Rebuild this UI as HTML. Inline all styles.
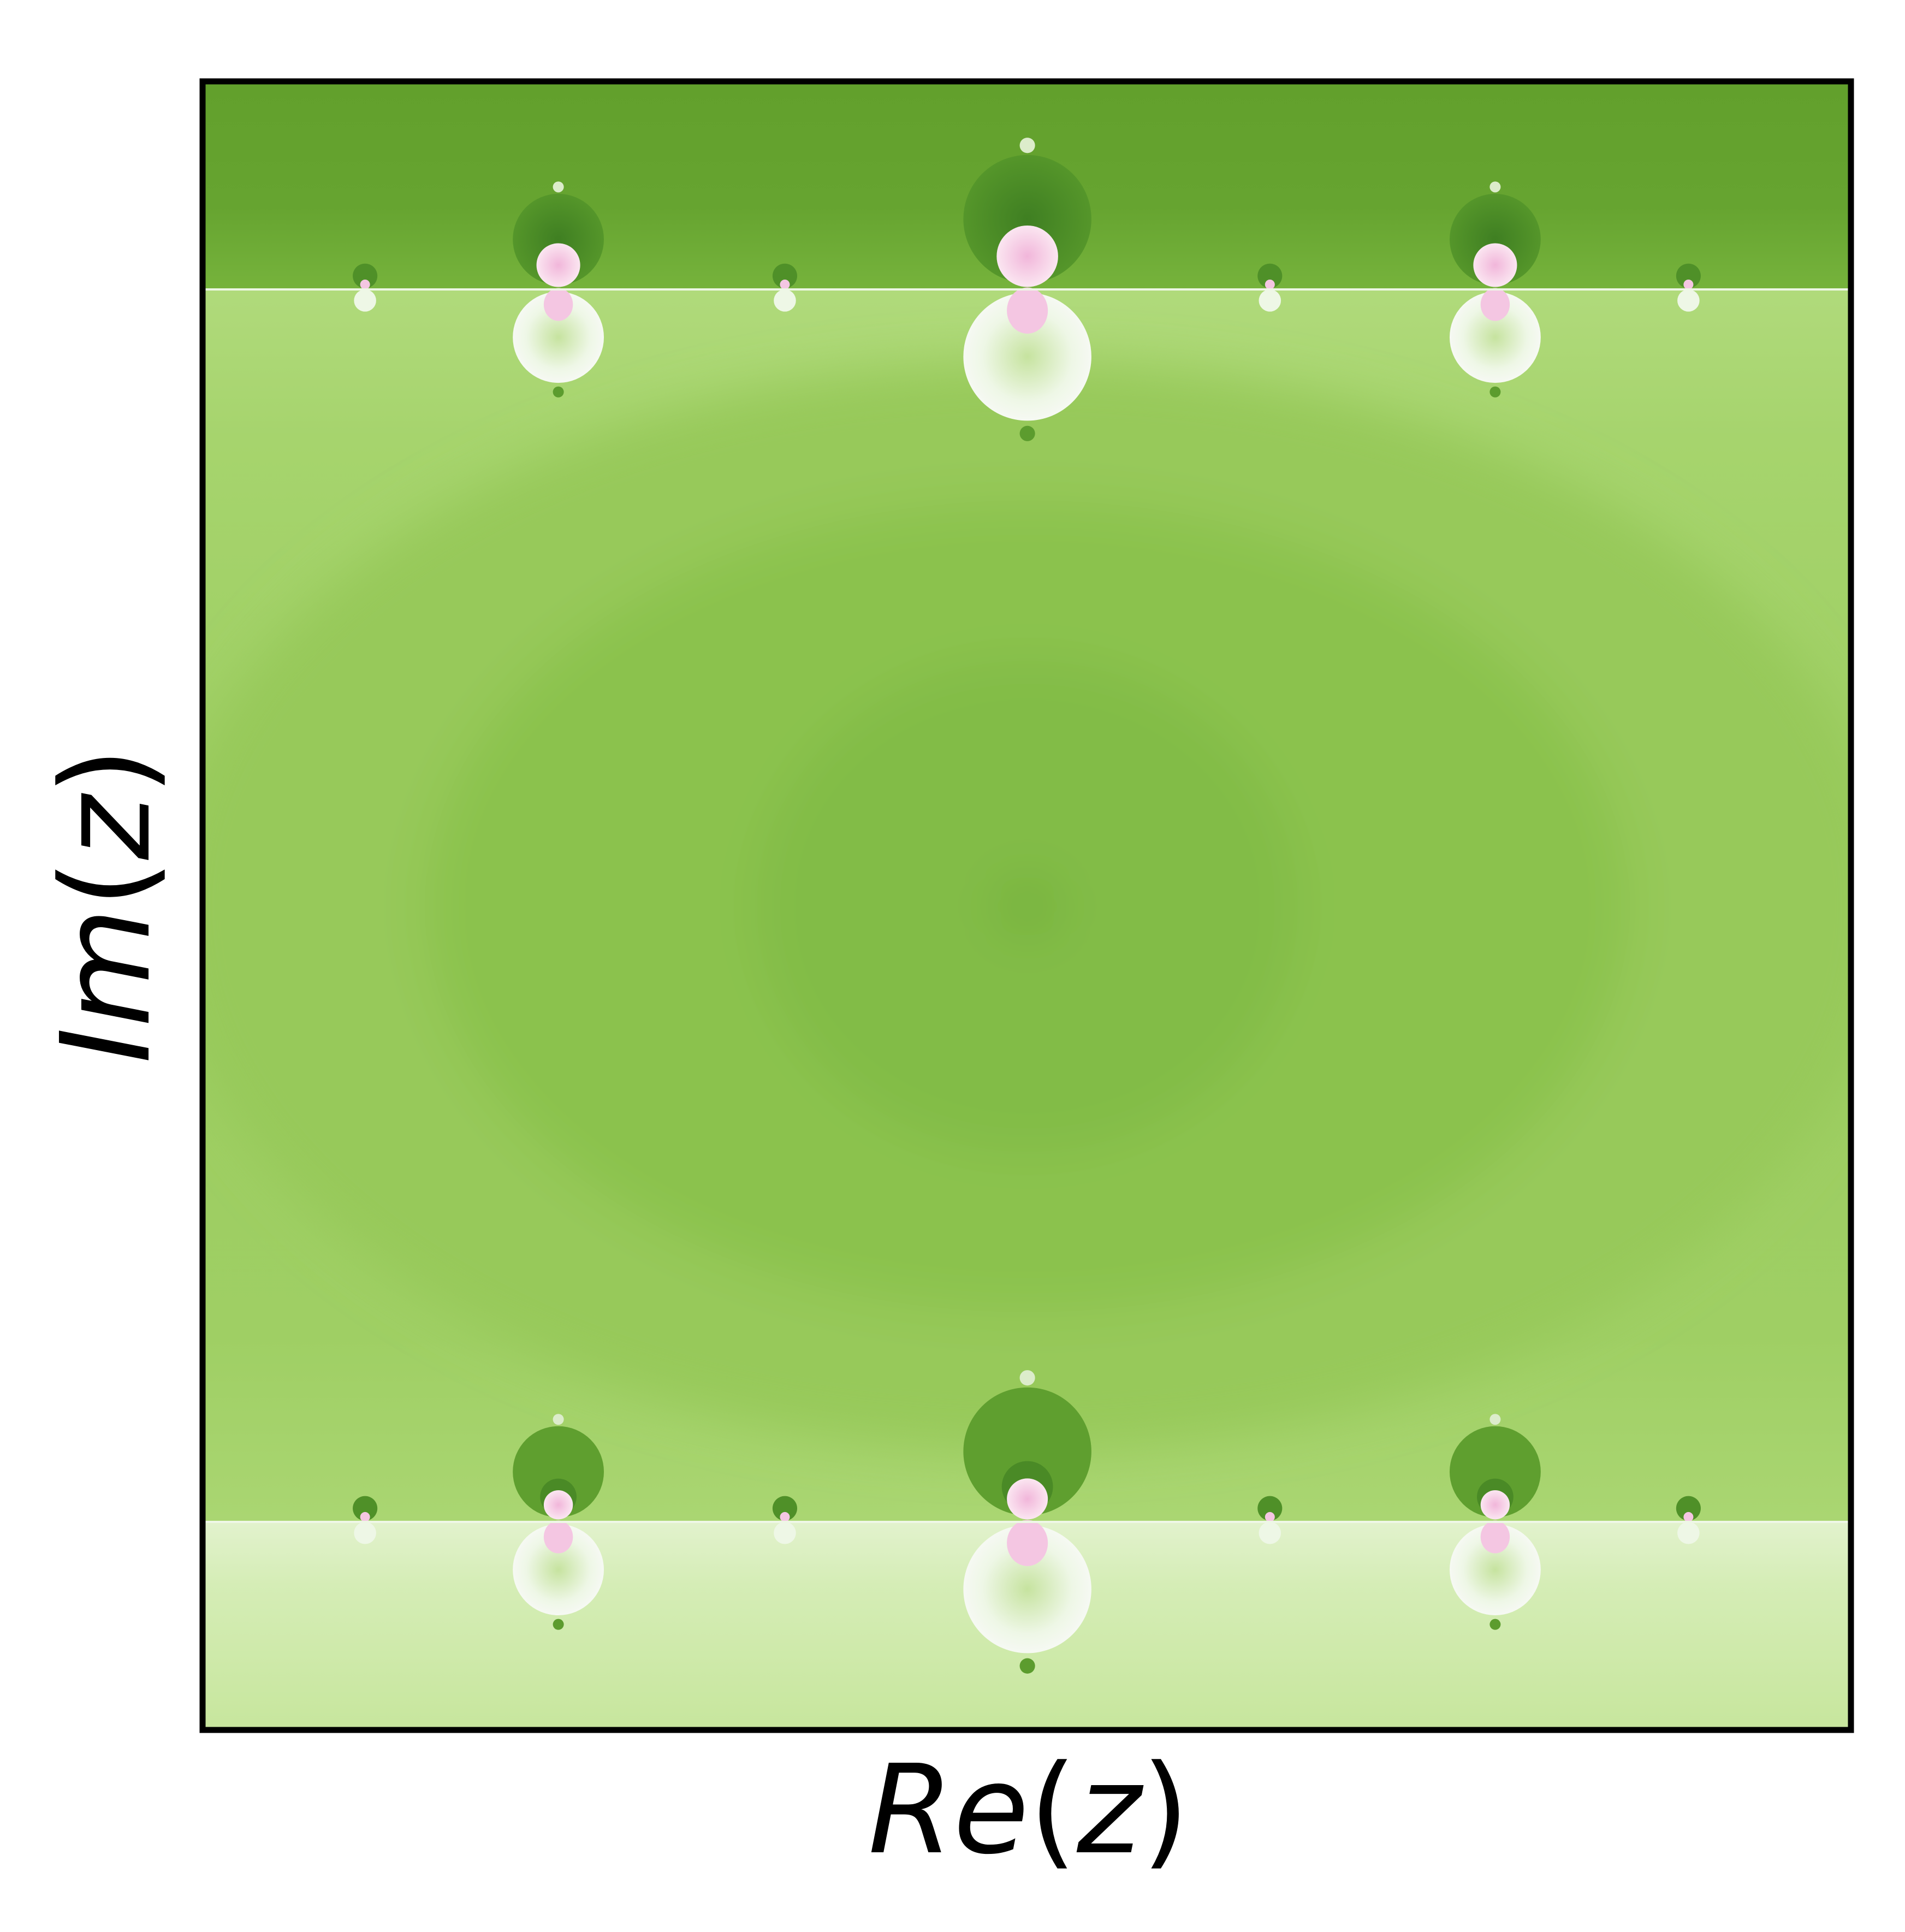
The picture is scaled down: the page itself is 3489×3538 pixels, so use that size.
<!DOCTYPE html>
<html><head><meta charset="utf-8"><style>
html,body{margin:0;padding:0;background:#fff}
svg{display:block}
text{font-family:"DejaVu Sans","Liberation Sans",sans-serif;font-style:oblique}
.up{font-style:normal}
</style></head><body>
<svg id="chart" width="3489" height="3538" viewBox="0 0 3489 3538" xmlns="http://www.w3.org/2000/svg">
<defs>
<linearGradient id="topg" x1="0" y1="0" x2="0" y2="1"><stop offset="0" stop-color="#62a02c"/><stop offset="0.6" stop-color="#66a430"/><stop offset="1" stop-color="#76b33c"/></linearGradient>
<linearGradient id="midg" x1="0" y1="0" x2="0" y2="1"><stop offset="0" stop-color="#b0da7b"/><stop offset="0.12" stop-color="#a6d46d"/><stop offset="0.5" stop-color="#9ccd60"/><stop offset="0.85" stop-color="#9fcf64"/><stop offset="1" stop-color="#aad672"/></linearGradient>
<linearGradient id="botg" x1="0" y1="0" x2="0" y2="1"><stop offset="0" stop-color="#e2f2cd"/><stop offset="0.3" stop-color="#d5edb6"/><stop offset="1" stop-color="#c7e69d"/></linearGradient>
<radialGradient id="darkg"><stop offset="0" stop-color="#3f7f22"/><stop offset="1" stop-color="#55962a"/></radialGradient>
<radialGradient id="lightg"><stop offset="0" stop-color="#c6e39f"/><stop offset="0.7" stop-color="#eef7e6"/><stop offset="1" stop-color="#f6f9f3"/></radialGradient>
<radialGradient id="pinkg"><stop offset="0" stop-color="#f1b6da"/><stop offset="1" stop-color="#fbe6f1"/></radialGradient>
<filter id="soft" x="-20%" y="-20%" width="140%" height="140%"><feGaussianBlur stdDeviation="45"/></filter>
<clipPath id="plotclip"><rect x="371" y="149" width="3019" height="3019"/></clipPath>
</defs>
<g id="plot" clip-path="url(#plotclip)"></g>
<rect x="371" y="149" width="3019" height="3019" fill="none" stroke="#000" stroke-width="11"/>
<text x="1884" y="3392" font-size="225" text-anchor="middle">Re<tspan class="up">(</tspan>z<tspan class="up">)</tspan></text>
<text x="0" y="0" font-size="225" text-anchor="middle" transform="translate(272,1658) rotate(-90)">Im<tspan class="up">(</tspan>z<tspan class="up">)</tspan></text>
</svg>
<script>
const bandLines = [234, 1235];
const rowCentersX = [452, 833, 1213];
const rowRadii = [37, 52, 37];
const smallX = [295, 636, 1030, 1370];
const ringRx = [700, 490, 220, 28];
const ringRy = [440, 330, 200, 26];
const ringColors = ["#97c95a", "#8bc24e", "#82bc46", "#77b33d"];

const NS = "http://www.w3.org/2000/svg";
const g = document.getElementById("plot");
function X(d){ return 371 + (d - 163) * 3019 / 1339; }
function Y(d){ return 149 + (d - 65) * 3019 / 1339; }
function S(r){ return r * 2.255; }
function mk(tag, attrs, parent){ const e = document.createElementNS(NS, tag); for (const k in attrs) e.setAttribute(k, attrs[k]); (parent || g).appendChild(e); return e; }

let e;
e = mk("rect", {x:371, y:149, width:3019, height:Y(bandLines[0]) - 149, fill:"url(#topg)"});


e = mk("rect", {x:371, y:Y(bandLines[0]), width:3019, height:Y(bandLines[1]) - Y(bandLines[0]), fill:"url(#midg)"});


e = mk("rect", {x:371, y:Y(bandLines[1]), width:3019, height:3168 - Y(bandLines[1]), fill:"url(#botg)"});



const rings = mk("g", {filter:"url(#soft)"});


for (let i = 0; i < ringRx.length; i++) {
  e = mk("ellipse", {cx:X(833), cy:Y(735), rx:S(ringRx[i]), ry:S(ringRy[i]), fill:ringColors[i]}, rings);
  
  
}

bandLines.forEach((ly, row) => {
  const isBottom = row === 1;
  rowCentersX.forEach((cx, i) => {
    const r = rowRadii[i];
    e = mk("circle", {cx:X(cx), cy:Y(ly - r * 1.1), r:S(r), fill:isBottom ? "#5f9f2f" : "url(#darkg)"});
    
    
    e = mk("circle", {cx:X(cx), cy:Y(ly + r * 1.05), r:S(r), fill:"url(#lightg)"});
    
    
    if (isBottom) {
      e = mk("circle", {cx:X(cx), cy:Y(ly - r * 0.55), r:S(r * 0.4), fill:"#4a8a26"});
      
      
    }
    const pr = isBottom ? r * 0.32 : r * 0.48;
    e = mk("circle", {cx:X(cx), cy:Y(ly - pr - 2), r:S(pr), fill:"url(#pinkg)"});
    
    
    e = mk("ellipse", {cx:X(cx), cy:Y(ly + r * 0.33), rx:S(r * 0.32), ry:S(r * 0.36), fill:"#f4c6e2"});
    
    
    e = mk("circle", {cx:X(cx), cy:Y(ly - r * 2.25), r:S(r * 0.12), fill:"#dceccb"});
    
    
    e = mk("circle", {cx:X(cx), cy:Y(ly + r * 2.25), r:S(r * 0.12), fill:"#5c9c2e"});
    
    
  });
  smallX.forEach(cx => {
    e = mk("circle", {cx:X(cx), cy:Y(ly - 11), r:S(10), fill:"#4f9028"});
    
    
    e = mk("circle", {cx:X(cx), cy:Y(ly + 9), r:S(9), fill:"#eef7e6"});
    
    
    e = mk("circle", {cx:X(cx), cy:Y(ly - 4), r:S(4), fill:"#f4c6e2"});
    
    
  });
  e = mk("line", {x1:371, x2:3390, y1:Y(ly), y2:Y(ly), stroke:"#eef7e6", "stroke-width":4});
  
  
});
</script>
</body></html>
